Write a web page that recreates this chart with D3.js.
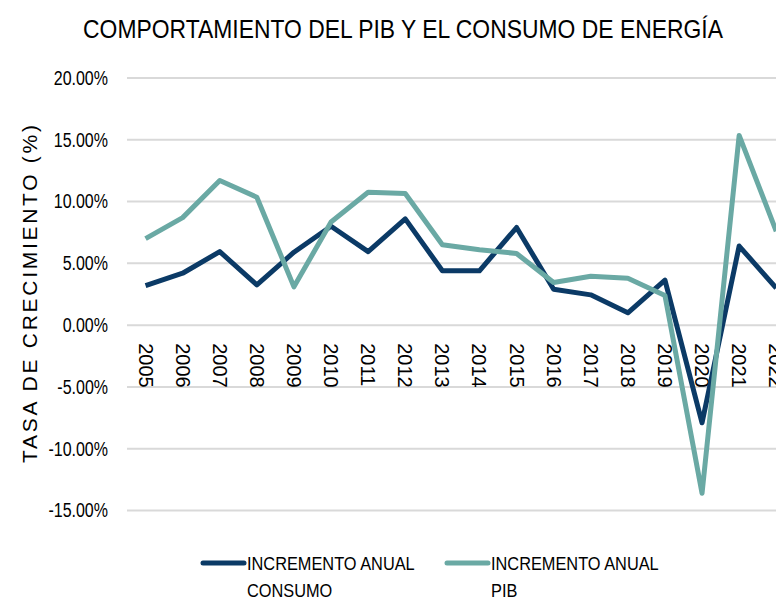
<!DOCTYPE html>
<html lang="es">
<head>
<meta charset="utf-8">
<title>Comportamiento del PIB y el consumo de energía</title>
<script src="https://d3js.org/d3.v7.min.js"></script>
<style>
  body { margin: 0; background: #fff; }
  .narrow { font-family: "Liberation Sans Narrow", "Liberation Sans", Arial, sans-serif; }
  .regular { font-family: "Liberation Sans", Arial, sans-serif; }
</style>
</head>
<body>
<div id="chart"></div>
<script>
// years on the x axis
var years = ["2005","2006","2007","2008","2009","2010","2011","2012","2013",
             "2014","2015","2016","2017","2018","2019","2020","2021","2022"];

// annual growth, in %
var consumo = [3.2, 4.2, 5.95, 3.25, 5.9, 8.0, 5.95, 8.6, 4.4,
               4.4, 7.9, 2.9, 2.45, 1.0, 3.65, -7.9, 6.4, 3.0];
var pib = [7.0, 8.7, 11.7, 10.35, 3.1, 8.35, 10.75, 10.65, 6.5,
           6.1, 5.8, 3.45, 3.95, 3.8, 2.4, -13.6, 15.35, 7.6];

var yTicks = [-15, -10, -5, 0, 5, 10, 15, 20];

var seriesNames = [["INCREMENTO ANUAL", "CONSUMO"], ["INCREMENTO ANUAL", "PIB"]];
var colors = ["#0b3a66", "#6aa9a4"];

var width = 776, height = 601;
var margin = {top: 78, left: 127};
var bandW = 37.1;

// no narrow font installed, so squeeze the regular one
function condense(sel, f) {
  sel.each(function() {
    var w = this.getComputedTextLength();
    d3.select(this)
      .attr("textLength", w * f)
      .attr("lengthAdjust", "spacingAndGlyphs");
  });
}

var svg = d3.select("#chart").append("svg")
    .attr("width", width)
    .attr("height", height);

var x = d3.scaleBand()
    .domain(years)
    .range([margin.left, margin.left + bandW * years.length]);

var y = d3.scaleLinear()
    .domain([-15, 20])
    .range([510.5, margin.top]);

// gridlines
svg.append("g")
  .selectAll("line")
  .data(yTicks)
  .enter().append("line")
    .attr("x1", margin.left)
    .attr("x2", margin.left + bandW * years.length)
    .attr("y1", function(d) { return y(d); })
    .attr("y2", function(d) { return y(d); })
    .attr("stroke", "#d9d9d9")
    .attr("stroke-width", 2);

// y axis labels
var yAxis = svg.append("g")
    .attr("class", "narrow")
    .attr("transform", "translate(" + margin.left + ",0)")
    .call(d3.axisLeft(y).tickValues(yTicks)
      .tickFormat(function(d) { return d.toFixed(2) + "%"; })
      .tickSize(0).tickPadding(19));
yAxis.select(".domain").remove();
yAxis.selectAll("text")
    .attr("font-size", 20)
    .attr("fill", "#000")
    .call(condense, 0.8);

// x axis labels, rotated, sitting just under the zero line
var xAxis = svg.append("g")
    .attr("class", "regular")
    .attr("transform", "translate(0," + y(0) + ")")
    .call(d3.axisBottom(x).tickSize(0).tickPadding(0));
xAxis.select(".domain").remove();
xAxis.selectAll("text")
    .attr("font-size", 20)
    .attr("fill", "#000")
    .attr("text-anchor", "start")
    .attr("dy", "0.35em")
    .attr("transform", "translate(0,18) rotate(90)");

// lines
var line = d3.line()
    .x(function(d, i) { return x(years[i]) + x.bandwidth() / 2; })
    .y(function(d) { return y(d); });

[consumo, pib].forEach(function(s, k) {
  svg.append("path")
      .datum(s)
      .attr("fill", "none")
      .attr("stroke", colors[k])
      .attr("stroke-width", 5)
      .attr("stroke-linejoin", "round")
      .attr("d", line);
});

// y axis title
svg.append("text")
    .attr("class", "regular")
    .attr("transform", "translate(37,294) rotate(-90)")
    .attr("text-anchor", "middle")
    .attr("font-size", 21)
    .attr("textLength", 338)
    .attr("lengthAdjust", "spacing")
    .text("TASA DE CRECIMIENTO (%)");

// title, squeezed with a scale so its box stays honest
var title = svg.append("text")
    .attr("class", "narrow")
    .attr("text-anchor", "middle")
    .attr("font-size", 25)
    .text("COMPORTAMIENTO DEL PIB Y EL CONSUMO DE ENERGÍA");
var tw = title.node().getComputedTextLength();
title.attr("transform", "translate(403,38) scale(" + (640 / tw) + ",1)");

// legend
var legendX = [203, 447];
var lg = svg.append("g").attr("class", "narrow");
seriesNames.forEach(function(n, k) {
  lg.append("line")
      .attr("x1", legendX[k]).attr("x2", legendX[k] + 41)
      .attr("y1", 563).attr("y2", 563)
      .attr("stroke", colors[k])
      .attr("stroke-width", 5)
      .attr("stroke-linecap", "round");
  n.forEach(function(t, j) {
    lg.append("text")
        .attr("x", legendX[k] + 44)
        .attr("y", 570 + j * 27)
        .attr("font-size", 19)
        .text(t)
        .call(condense, 0.86);
  });
});
</script>
</body>
</html>
